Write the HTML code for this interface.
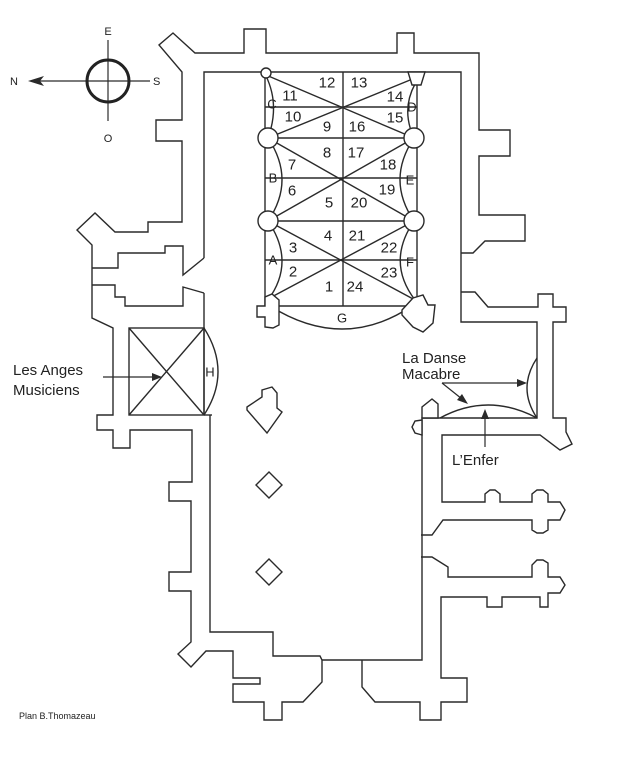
<!DOCTYPE html>
<html><head><meta charset="utf-8"><style>
html,body{margin:0;padding:0;background:#fff;}
svg{display:block;}
text{font-family:"Liberation Sans",sans-serif;fill:#222;}
</style></head><body>
<svg width="619" height="759" viewBox="0 0 619 759" xmlns="http://www.w3.org/2000/svg">
<rect width="619" height="759" fill="#fff"/>
<g fill="none" stroke="#2a2a2a" stroke-width="1.4" stroke-linejoin="miter">
<polyline points="461,253 473,253 485,241 525,241 525,215 479,215 479,156 510,156 510,130 479,130 479,53 414,53 414,33 397,33 397,53 266,53 266,29 244,29 244,53 195,53 173,33 159,45 182,72 182,120 156,120 156,141 182,141 182,222 148,222 148,232 115,232 95,213 77,230 92,245 92,318 113,328 113,415 97,415 97,430 113,430 113,448 130,448 130,430 192,430 192,482 169,482 169,501 191,501 191,572 169,572 169,591 191,591 191,642 178,654 191,667 206,651 233,651 233,678 260,678 260,684 233,684 233,702 264,702 264,720 282,720 282,702 303,702 322,682 322,660 320,656 273,656 273,632 210,632 210,415"/>
<polyline points="362,660 362,687 375,702 420,702 420,720 441,720 441,702 467,702 467,678 441,678 441,597 487,597 487,607 502,607 502,597 540,597 540,607 548,607 548,593 560,593 565,585 560,577 548,577 548,563 543,560 537,560 532,565 532,577 448,577 448,567 432,557 421,557"/>
<polyline points="421,535 432,535 443,520 532,520 532,530 537,533 543,533 548,530 548,520 560,520 565,510 560,502 548,502 548,494 543,490 537,490 532,494 532,502 500,502 500,494 495,490 490,490 485,494 485,502 442,502 442,435 540,435 560,450 572,444 566,432 566,418 553,418 553,322 566,322 566,307 553,307 553,294 538,294 538,307 488,307 475,292 461,292"/>
<polyline points="204,258 204,72 461,72 461,322 537,322 537,418 422,418 422,660 322,660"/>
<line x1="204" y1="293" x2="204" y2="415"/>
<polyline points="92,268 118,268 118,253 165,253 165,246 183,246 183,275 204,258"/>
<polyline points="204,293 183,287 183,306 125,306 125,297 115,297 115,285 92,285"/>
<rect x="129" y="328" width="75" height="87"/>
<line x1="129" y1="328" x2="204" y2="415"/><line x1="204" y1="328" x2="129" y2="415"/>
<path d="M204,328 Q232,372 204,415"/>
<line x1="204" y1="415" x2="212" y2="415"/>
<line x1="265" y1="72" x2="265" y2="306"/><line x1="417" y1="72" x2="417" y2="306"/>
<line x1="343" y1="72" x2="343" y2="306"/>
<line x1="265" y1="107" x2="417" y2="107"/>
<line x1="268" y1="138" x2="414" y2="138"/>
<line x1="265" y1="178" x2="417" y2="178"/>
<line x1="268" y1="221" x2="414" y2="221"/>
<line x1="265" y1="260" x2="417" y2="260"/>
<line x1="265" y1="306" x2="417" y2="306"/>
<line x1="266" y1="75" x2="414" y2="138"/><line x1="268" y1="138" x2="415" y2="78"/>
<line x1="268" y1="138" x2="414" y2="221"/><line x1="268" y1="221" x2="414" y2="138"/>
<line x1="268" y1="221" x2="415" y2="300"/><line x1="266" y1="300" x2="414" y2="221"/>
<path d="M266,76 Q280,105 268,138"/>
<path d="M268,138 Q296,180 268,221"/>
<path d="M268,221 Q296,262 268,300"/>
<path d="M415,84 Q401,110 414,138"/>
<path d="M414,138 Q386,180 414,221"/>
<path d="M414,221 Q386,262 415,300"/>
<path d="M270,306 Q343,352 412,306"/>
<g fill="#fff">
<circle cx="268" cy="138" r="10"/><circle cx="414" cy="138" r="10"/>
<circle cx="268" cy="221" r="10"/><circle cx="414" cy="221" r="10"/>
<circle cx="266" cy="73" r="5"/>
<polygon points="408,72 425,72 421,85 412,85"/>
<polygon points="257,306 265,306 265,297 272,294 279,300 279,325 273,328 265,327 265,317 257,317"/>
<polygon points="402,310 413,298 423,295 428,305 435,305 433,323 423,332 413,327 402,315"/>
<polygon points="422,418 422,407 432,399 438,404 438,418"/>
<polygon points="422,420 415,421 412,427 415,433 422,435"/>
</g>
<polygon points="247,407 262,397 262,390 272,387 277,393 277,408 282,412 267,433 247,410"/>
<polygon points="269,472 282,485 269,498 256,485"/>
<polygon points="269,559 282,572 269,585 256,572"/>
<path d="M537,358 Q517,388 537,418"/>
<path d="M440,418 Q488,392 537,418"/>
</g>
<g stroke="#2a2a2a" stroke-width="1.2" fill="#2a2a2a">
<line x1="103" y1="377" x2="155" y2="377"/><polygon points="162,377 152,373 152,381" stroke="none"/>
<line x1="442" y1="383" x2="520" y2="383"/><polygon points="527,383 517,379 517,387" stroke="none"/>
<line x1="442" y1="383" x2="462" y2="399"/><polygon points="468,404 457,400 462,394" stroke="none"/>
<line x1="485" y1="447" x2="485" y2="416"/><polygon points="485,409 481,419 489,419" stroke="none"/>
<line x1="108" y1="40" x2="108" y2="121" fill="none"/>
<line x1="34" y1="81" x2="150" y2="81" fill="none"/>
<polygon points="28,81 44,76 40,81 44,86" stroke="none"/>
</g>
<circle cx="108" cy="81" r="21" fill="none" stroke="#222" stroke-width="3"/>
<g font-size="11">
<text x="108" y="35" text-anchor="middle">E</text>
<text x="10" y="85">N</text>
<text x="153" y="85">S</text>
<text x="108" y="142" text-anchor="middle">O</text>
</g>
<g font-size="15" text-anchor="middle" dominant-baseline="central">
<text x="327" y="83">12</text><text x="359" y="83">13</text>
<text x="290" y="96">11</text><text x="395" y="97">14</text>
<text x="293" y="117">10</text><text x="395" y="118">15</text>
<text x="327" y="127">9</text><text x="357" y="127">16</text>
<text x="327" y="153">8</text><text x="356" y="153">17</text>
<text x="292" y="165">7</text><text x="388" y="165">18</text>
<text x="292" y="191">6</text><text x="387" y="190">19</text>
<text x="329" y="203">5</text><text x="359" y="203">20</text>
<text x="328" y="236">4</text><text x="357" y="236">21</text>
<text x="293" y="248">3</text><text x="389" y="248">22</text>
<text x="293" y="272">2</text><text x="389" y="273">23</text>
<text x="329" y="287">1</text><text x="355" y="287">24</text>
</g>
<g font-size="13" text-anchor="middle" dominant-baseline="central">
<text x="273" y="260">A</text><text x="273" y="178">B</text><text x="272" y="104">C</text>
<text x="412" y="107">D</text><text x="410" y="180">E</text><text x="410" y="262">F</text>
<text x="342" y="318">G</text><text x="210" y="372">H</text>
</g>
<g font-size="15">
<text x="13" y="375">Les Anges</text>
<text x="13" y="395">Musiciens</text>
<text x="402" y="363">La Danse</text>
<text x="402" y="379">Macabre</text>
<text x="452" y="465">L’Enfer</text>
</g>
<text x="19" y="719" font-size="9">Plan B.Thomazeau</text>
</svg>
</body></html>
